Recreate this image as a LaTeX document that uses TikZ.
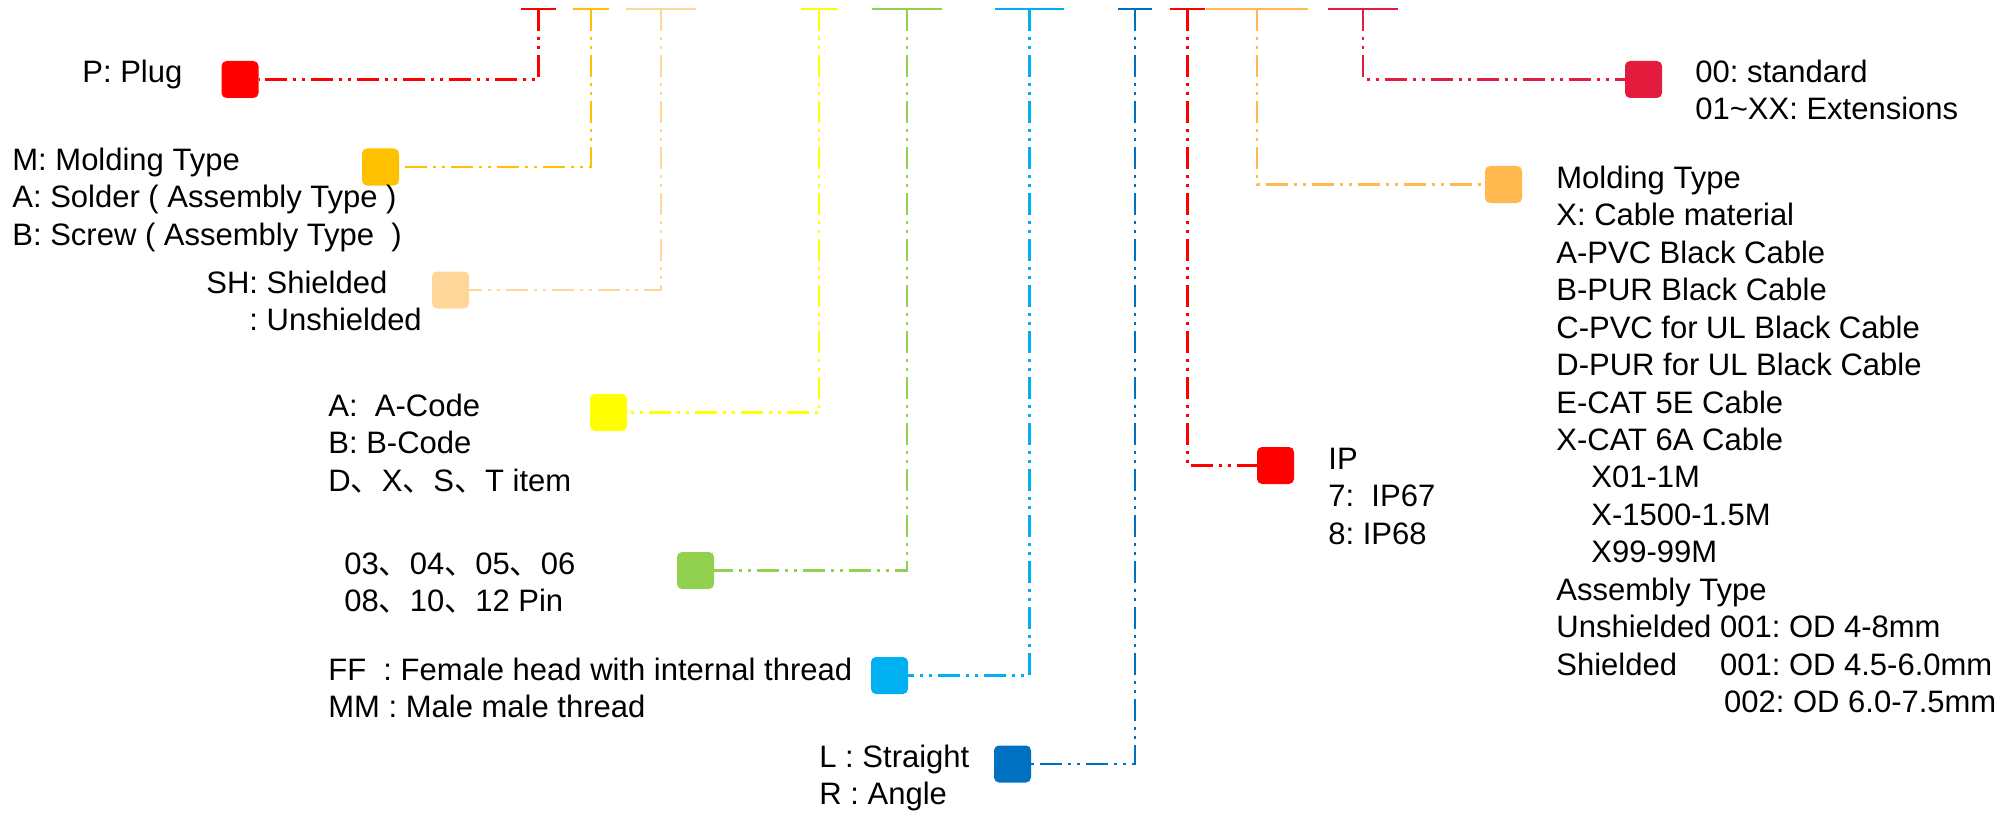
\documentclass[tikz,border=0pt]{standalone}
\usepackage{fontspec}
\setmainfont{Liberation Sans}
\newfontfamily\cjk{Noto Sans CJK SC}
\definecolor{cR}{HTML}{FF0000}
\definecolor{cO}{HTML}{FFC000}
\definecolor{cP}{HTML}{FFD699}
\definecolor{cY}{HTML}{FFFF00}
\definecolor{cG}{HTML}{92D050}
\definecolor{cLB}{HTML}{00B0F0}
\definecolor{cDB}{HTML}{0070C0}
\definecolor{cLO}{HTML}{FFB94F}
\definecolor{cC}{HTML}{E31C3D}
\newcommand{\cc}{{\cjk 、}}
\frenchspacing
\begin{document}
\begin{tikzpicture}[x=0.5pt,y=-0.5pt,
  conn/.style={line width=1.15pt, dash pattern=on 11pt off 3pt on 1.5pt off 3pt on 1.5pt off 3pt},
  tbar/.style={line width=1.4pt},
  tag/.style={rounded corners=2.5pt, minimum width=18.5pt, minimum height=18.5pt, inner sep=0pt},
  txt/.style={anchor=north west, inner sep=0pt, align=left, font=\fontsize{15.5}{18.72}\selectfont\frenchspacing}]
\useasboundingbox (0,0) rectangle (2008,813);

% top coordinates of the bars
\coordinate (t1) at (538.5,9);
\coordinate (t2) at (591,9);
\coordinate (t3) at (661,9);
\coordinate (t4) at (819,9);
\coordinate (t5) at (907,9);
\coordinate (t6) at (1029.5,9);
\coordinate (t7) at (1135,9);
\coordinate (t8) at (1187.5,9);
\coordinate (t9) at (1257,9);
\coordinate (t10) at (1363,9);

% bars
\draw[tbar,cR]  ([xshift=-8.75pt]t1) -- ([xshift=8.75pt]t1);
\draw[tbar,cO]  ([xshift=-9pt]t2) -- ([xshift=9pt]t2);
\draw[tbar,cP]  ([xshift=-17.5pt]t3) -- ([xshift=17.5pt]t3);
\draw[tbar,cY]  ([xshift=-9pt]t4) -- ([xshift=9pt]t4);
\draw[tbar,cG]  ([xshift=-17.5pt]t5) -- ([xshift=17.5pt]t5);
\draw[tbar,cLB] ([xshift=-17.25pt]t6) -- ([xshift=17.25pt]t6);
\draw[tbar,cDB] ([xshift=-8.5pt]t7) -- ([xshift=8.5pt]t7);
\draw[tbar,cR]  ([xshift=-8.75pt]t8) -- ([xshift=8.75pt]t8);
\draw[tbar,cLO] ([xshift=-25.5pt]t9) -- ([xshift=25.5pt]t9);
\draw[tbar,cC]  ([xshift=-17.5pt]t10) -- ([xshift=17.5pt]t10);

% tags
\node[tag,fill=cR]  (b1)  at (240,79.5) {};
\node[tag,fill=cO]  (b2)  at (380.5,167) {};
\node[tag,fill=cP]  (b3)  at (450.5,290) {};
\node[tag,fill=cY]  (b4)  at (608.5,412.5) {};
\node[tag,fill=cG]  (b5)  at (695.5,570.5) {};
\node[tag,fill=cLB] (b6)  at (889.5,675.5) {};
\node[tag,fill=cDB] (b7)  at (1012.5,764) {};
\node[tag,fill=cR]  (b8)  at (1275.5,465.5) {};
\node[tag,fill=cLO] (b9)  at (1503.5,184.5) {};
\node[tag,fill=cC]  (b10) at (1643.5,79.5) {};

% connectors
\draw[conn,cR]  (t1) |- (b1.east);
\draw[conn,cO]  (t2) |- (b2.east);
\draw[conn,cP]  (t3) |- (b3.east);
\draw[conn,cY]  (t4) |- (b4.east);
\draw[conn,cG]  (t5) |- (b5.east);
\draw[conn,cLB] (t6) |- (b6.east);
\draw[conn,cDB] (t7) |- (b7.east);
\draw[conn,cR]  (t8) |- (b8.west);
\draw[conn,cLO] (t9) |- (b9.west);
\draw[conn,cC]  (t10) |- (b10.west);

% texts (y = first baseline - 26.2)
\node[txt] (l1) at (82,55.8) {\strut P: Plug};
\node[txt] (l2) at (12,143.8) {\strut M: Molding Type\\A: Solder ( Assembly Type )\\B: Screw ( Assembly Type~ )};
\node[txt] (l3) at (206,266.8) {\strut SH: Shielded\\\phantom{SH}: Unshielded};
\node[txt] (l4) at (328,389.8) {\strut A:~ A-Code\\B: B-Code\\D\cc X\cc S\cc T item};
\node[txt] (l5) at (344,547.8) {\strut 03\cc 04\cc 05\cc 06\\08\cc 10\cc 12 Pin};
\node[txt] (l6) at (328,653.8) {\strut FF~ : Female head with internal thread\\MM : Male male thread};
\node[txt] (l7) at (819,740.8) {\strut L : Straight\\R : Angle};
\node[txt] (l8) at (1328,442.8) {\strut IP\\7:~ IP67\\8: IP68};
\node[txt] (l9) at (1556,161.8) {\strut Molding Type\\X: Cable material\\A-PVC Black Cable\\B-PUR Black Cable\\C-PVC for UL Black Cable\\D-PUR for UL Black Cable\\E-CAT 5E Cable\\X-CAT 6A Cable\\\hspace*{17.5pt}X01-1M\\\hspace*{17.5pt}X-1500-1.5M\\\hspace*{17.5pt}X99-99M\\Assembly Type\\Unshielded 001: OD 4-8mm\\\makebox[0pt][l]{Shielded}\phantom{Unshielded\ }001: OD 4.5-6.0mm\\\phantom{Unshielded\ }\hspace*{2pt}002: OD 6.0-7.5mm};
\node[txt] (l10) at (1695,55.8) {\strut 00: standard\\01\textasciitilde XX: Extensions};
\end{tikzpicture}
\end{document}
